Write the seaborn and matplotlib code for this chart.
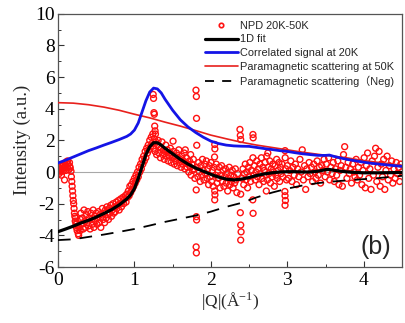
import numpy as np
import matplotlib
matplotlib.use("Agg")
import matplotlib.pyplot as plt
from matplotlib.lines import Line2D
import seaborn as sns

# ---------------- data ----------------
# Smooth curves
fit_q = [0.0, 0.1, 0.2, 0.3, 0.4, 0.5, 0.6, 0.7, 0.8, 0.9, 0.95, 1.0, 1.05, 1.1, 1.15, 1.2, 1.25,
         1.3, 1.35, 1.4, 1.5, 1.6, 1.7, 1.8, 1.9, 2.0, 2.1, 2.2, 2.3, 2.4, 2.5, 2.6, 2.7, 2.8,
         2.9, 3.0, 3.1, 3.2, 3.3, 3.4, 3.5, 3.55, 3.6, 3.7, 3.8, 3.9, 4.0, 4.2, 4.5]
fit_i = [-3.77, -3.6, -3.42, -3.22, -3.05, -2.85, -2.62, -2.38, -2.08, -1.7, -1.45, -1.05, -0.4,
         0.35, 1.1, 1.6, 1.85, 1.85, 1.7, 1.5, 1.15, 0.8, 0.5, 0.25, 0.05, -0.15, -0.32, -0.45,
         -0.5, -0.45, -0.35, -0.22, -0.12, -0.05, 0.0, 0.02, 0.02, 0.0, 0.0, 0.05, 0.15, 0.16,
         0.12, 0.05, 0.0, -0.03, -0.05, -0.05, -0.03]

corr_q = [0.0, 0.1, 0.2, 0.3, 0.4, 0.5, 0.6, 0.7, 0.8, 0.9, 0.95, 1.0, 1.05, 1.1, 1.15, 1.2, 1.25,
          1.3, 1.35, 1.4, 1.5, 1.6, 1.7, 1.8, 1.9, 2.0, 2.1, 2.2, 2.3, 2.4, 2.5, 2.6, 2.7, 2.8,
          2.9, 3.0, 3.1, 3.2, 3.3, 3.4, 3.5, 3.55, 3.6, 3.7, 3.8, 3.9, 4.0, 4.1, 4.2, 4.3, 4.4, 4.5]
corr_i = [0.57, 0.75, 0.95, 1.15, 1.35, 1.52, 1.7, 1.87, 2.05, 2.25, 2.4, 2.65, 3.1, 3.8, 4.5,
          5.05, 5.3, 5.25, 5.0, 4.6, 3.9, 3.3, 2.85, 2.5, 2.2, 1.95, 1.8, 1.7, 1.65, 1.63, 1.62,
          1.55, 1.48, 1.42, 1.35, 1.3, 1.22, 1.15, 1.1, 1.05, 1.05, 1.07, 1.0, 0.88, 0.78, 0.7,
          0.62, 0.55, 0.5, 0.45, 0.4, 0.36]

para_q = [0.0, 0.2, 0.4, 0.6, 0.8, 1.0, 1.2, 1.4, 1.6, 1.8, 2.0, 2.2, 2.4, 2.6, 2.8, 3.0, 3.2,
          3.4, 3.6, 3.8, 4.0, 4.2, 4.4, 4.5]
para_i = [4.38, 4.35, 4.25, 4.1, 3.9, 3.65, 3.42, 3.15, 2.9, 2.62, 2.33, 2.1, 1.88, 1.7, 1.55,
          1.4, 1.25, 1.12, 1.0, 0.88, 0.72, 0.6, 0.48, 0.42]

neg_q = [0.0, 0.2, 0.4, 0.6, 0.8, 1.0, 1.2, 1.4, 1.6, 1.8, 2.0, 2.2, 2.4, 2.6, 2.8, 3.0, 3.2,
         3.4, 3.6, 3.8, 4.0, 4.2, 4.4, 4.5]
neg_i = [-4.3, -4.25, -4.1, -3.95, -3.78, -3.6, -3.38, -3.15, -2.95, -2.75, -2.5, -2.2, -1.95,
         -1.6, -1.3, -1.05, -0.85, -0.7, -0.6, -0.52, -0.45, -0.38, -0.28, -0.24]

# NPD 20K-50K difference points, (|Q|, intensity), in segments
npd_seg_a = [(0.00, 0.05), (0.01, 0.15), (0.015, -0.1), (0.02, 0.0), (0.03, 0.2), (0.04, 0.1),
             (0.045, -0.2), (0.05, 0.35), (0.06, 0.2), (0.065, 0.05), (0.07, 0.45), (0.08, 0.3),
             (0.085, -0.5), (0.09, 0.55), (0.10, 0.4), (0.105, 0.1), (0.11, 0.65), (0.12, 0.3),
             (0.125, 0.7), (0.13, 0.5), (0.14, 0.15), (0.15, 0.6), (0.155, 0.35), (0.16, 0.25),
             (0.17, 0.05), (0.175, -0.3), (0.18, -0.6), (0.185, -0.9), (0.19, -1.2), (0.195, -1.5),
             (0.20, -1.8), (0.205, -2.0), (0.21, -2.3), (0.215, -2.6), (0.22, -2.8), (0.225, -3.1),
             (0.23, -2.9), (0.235, -3.3), (0.24, -3.5), (0.245, -3.2), (0.25, -3.7), (0.26, -3.4),
             (0.265, -3.9), (0.27, -4.0), (0.28, -3.5), (0.29, -3.7), (0.295, -3.0)]
npd_seg_b = [(0.30, -2.6), (0.31, -3.3), (0.32, -2.9), (0.33, -3.6), (0.34, -2.4), (0.35, -3.1),
             (0.36, -3.5), (0.37, -2.7), (0.38, -3.2), (0.39, -2.5), (0.40, -3.4), (0.41, -2.9),
             (0.42, -3.6), (0.43, -2.6), (0.44, -3.0), (0.45, -3.3), (0.46, -2.4), (0.47, -3.5),
             (0.48, -2.8), (0.49, -3.1), (0.50, -2.6), (0.51, -3.3), (0.52, -2.9), (0.53, -2.5),
             (0.54, -3.2), (0.55, -2.7), (0.56, -3.5), (0.57, -2.8), (0.58, -2.3), (0.59, -3.0),
             (0.60, -2.6), (0.61, -3.2), (0.62, -2.4), (0.63, -2.9), (0.64, -2.2), (0.65, -2.7),
             (0.66, -3.0), (0.67, -2.3), (0.68, -2.6), (0.69, -2.1), (0.70, -2.8), (0.71, -2.4),
             (0.72, -2.0), (0.73, -2.6), (0.74, -2.2), (0.75, -2.5), (0.76, -1.9), (0.77, -2.3),
             (0.78, -2.1), (0.79, -1.8), (0.80, -2.4), (0.81, -2.0), (0.82, -1.7), (0.83, -2.2),
             (0.84, -1.9), (0.85, -1.6), (0.86, -2.0), (0.87, -1.7), (0.88, -1.5), (0.89, -1.9),
             (0.90, -1.4), (0.91, -1.6), (0.92, -1.2), (0.93, -1.5), (0.94, -0.9), (0.95, -1.3)]
npd_seg_c = [(0.96, -0.8), (0.97, -1.1), (0.98, -0.6), (0.99, -0.9), (1.00, -0.4), (1.01, -0.7),
             (1.02, -0.2), (1.03, -0.5), (1.04, 0.0), (1.05, -0.3), (1.06, 0.3), (1.07, 0.0),
             (1.08, 0.5), (1.09, 0.2), (1.10, 0.8), (1.11, 0.5), (1.12, 1.0), (1.13, 0.7),
             (1.14, 1.3), (1.15, 0.9), (1.16, 1.5), (1.17, 1.2), (1.18, 1.7), (1.19, 1.4),
             (1.20, 2.0), (1.21, 1.6), (1.22, 2.2), (1.23, 1.8), (1.24, 2.4), (1.25, 1.5),
             (1.245, 4.9), (1.25, 4.65), (1.255, 3.75), (1.26, 3.65), (1.265, 2.9), (1.27, 2.6),
             (1.275, 2.4)]
npd_seg_d = [(1.26, 2.1), (1.27, 1.3), (1.28, 1.9), (1.29, 1.1), (1.30, 1.7), (1.31, 2.0),
             (1.32, 1.2), (1.33, 1.6), (1.34, 0.9), (1.35, 1.5), (1.36, 1.9), (1.37, 1.1),
             (1.38, 1.4), (1.39, 0.8), (1.40, 1.3), (1.41, 1.7), (1.42, 1.0), (1.43, 1.4),
             (1.44, 0.7), (1.45, 1.2), (1.46, 1.0), (1.47, 1.5), (1.48, 0.6), (1.49, 1.1),
             (1.50, 0.9), (1.505, 1.95), (1.51, 1.3), (1.52, 0.5), (1.53, 1.0), (1.54, 0.7),
             (1.55, 1.2), (1.56, 0.4), (1.57, 0.9), (1.58, 1.4), (1.59, 0.6), (1.60, 0.8),
             (1.61, 0.3), (1.62, 1.0), (1.63, 0.5), (1.64, 0.7), (1.65, 1.2), (1.66, 0.2),
             (1.665, 1.4), (1.67, 0.6), (1.68, 0.9), (1.69, 0.3), (1.70, 0.5), (1.71, 0.0),
             (1.72, 0.7), (1.73, 0.3), (1.735, 1.1), (1.74, -0.2), (1.75, 0.5), (1.76, 0.1),
             (1.77, 0.8), (1.78, 0.2), (1.79, -0.4)]
npd_seg_e = [(1.805, 5.17), (1.81, 4.77), (1.812, 3.39), (1.815, 1.69), (1.808, -1.13),
             (1.81, -2.82), (1.813, -3.03), (1.807, -4.73), (1.81, -5.11),
             (1.82, 0.3), (1.83, -0.3), (1.84, 0.6), (1.85, 0.0), (1.86, -0.6), (1.87, 0.4),
             (1.88, -0.2), (1.89, 0.8), (1.90, 0.1), (1.91, -0.5), (1.92, 0.5), (1.93, -0.1),
             (1.94, 0.7), (1.95, -0.4), (1.96, 0.2), (1.97, -0.8), (1.98, 0.4), (1.99, -0.3),
             (2.00, 0.6), (2.01, -0.6), (2.02, 0.1), (2.03, -0.9), (2.04, 0.3),
             (2.05, 1.74), (2.052, 1.46), (2.048, 0.95), (2.05, -1.2), (2.053, -1.44),
             (2.05, -1.76)]
npd_seg_f = [(2.06, -0.2), (2.07, 0.5), (2.08, -0.7), (2.09, 0.0), (2.10, -0.4), (2.11, 0.3),
             (2.12, -1.0), (2.13, -0.2), (2.14, 0.4), (2.15, -0.6), (2.16, 0.1), (2.17, -0.9),
             (2.18, -0.3), (2.19, 0.2), (2.20, -0.7), (2.21, -0.1), (2.22, -1.2), (2.23, -0.4),
             (2.24, 0.3), (2.25, -0.8), (2.26, -0.2), (2.27, -0.6), (2.28, 0.1), (2.29, -1.0),
             (2.30, -0.3), (2.31, -0.7), (2.32, 0.2), (2.33, -0.5), (2.34, -1.3), (2.35, -0.1),
             (2.38, 2.69), (2.385, 2.31), (2.39, 2.05), (2.39, -1.4), (2.385, -2.57),
             (2.39, -3.35), (2.395, -3.78), (2.39, -4.3),
             (2.41, -0.4), (2.42, 0.2), (2.43, -0.8), (2.44, -0.1), (2.45, 0.5), (2.46, -0.5),
             (2.47, 0.0), (2.48, -1.0), (2.49, 0.3), (2.50, -0.3), (2.51, 0.6), (2.52, -0.6),
             (2.53, 0.1),
             (2.55, 2.37), (2.553, 2.16), (2.55, 0.9), (2.548, -1.76), (2.552, -2.61)]
npd_seg_g = [(2.56, -0.2), (2.57, 0.4), (2.58, -0.5), (2.59, 0.0), (2.60, 0.7), (2.61, -0.3),
             (2.62, 0.2), (2.63, -0.8), (2.64, 0.5), (2.65, -0.1), (2.66, 0.9), (2.67, -0.4),
             (2.68, 0.3), (2.69, -0.6), (2.70, 0.1), (2.71, 0.6), (2.72, -0.2), (2.725, -1.2),
             (2.73, 1.0), (2.74, -0.5), (2.745, 1.2), (2.75, 0.3), (2.76, -0.1), (2.77, 0.7),
             (2.78, -0.7), (2.79, 0.2), (2.80, -0.3), (2.81, 0.5), (2.82, 0.0), (2.83, -0.9),
             (2.84, 0.4), (2.85, -0.2), (2.86, 0.8), (2.87, -0.4), (2.88, 0.1), (2.89, 0.6),
             (2.90, -0.6), (2.91, 0.3), (2.92, -0.1), (2.93, 0.5), (2.94, -0.3),
             (2.97, 1.35), (2.972, 0.9), (2.968, -1.23), (2.97, -1.5), (2.975, -1.8),
             (2.97, -2.1), (2.98, 0.2), (2.99, -0.5)]
npd_seg_h = [(3.00, 0.4), (3.015, -0.4), (3.03, 0.1), (3.045, 0.7), (3.06, -0.6), (3.075, 0.3),
             (3.09, -0.2), (3.105, 0.5), (3.12, -0.8), (3.135, 0.2), (3.15, -0.3), (3.165, 0.8),
             (3.18, 0.0), (3.195, 1.4), (3.21, -0.5), (3.225, 0.4), (3.24, -1.1), (3.255, 0.2),
             (3.27, -0.3), (3.285, 0.6), (3.30, -0.1), (3.315, 0.3), (3.33, -0.6), (3.345, 0.5),
             (3.36, 0.0), (3.375, -0.4), (3.39, 0.7), (3.405, -0.2), (3.42, 0.3), (3.435, -0.7),
             (3.45, 0.4), (3.465, 0.1), (3.48, 0.8), (3.495, -0.3), (3.51, 0.5), (3.525, 0.0),
             (3.54, 0.9), (3.555, -0.5), (3.57, 0.3), (3.585, -0.1), (3.60, 0.6), (3.615, -0.6),
             (3.63, 0.2), (3.645, -0.2), (3.66, 0.7), (3.675, -0.8), (3.69, 0.1), (3.705, 0.4),
             (3.72, -0.9), (3.735, 1.1), (3.75, 1.6), (3.765, 0.3), (3.78, -0.4), (3.795, 0.6)]
npd_seg_i = [(3.81, -0.1), (3.825, 0.2), (3.84, -0.7), (3.855, 0.5), (3.87, 0.0), (3.885, -0.3),
             (3.90, 0.8), (3.915, -0.5), (3.93, 0.3), (3.945, -0.2), (3.96, 0.6), (3.975, -0.8),
             (3.99, 0.1), (4.005, 0.9), (4.02, -1.0), (4.035, 0.4), (4.05, 1.2), (4.065, -0.4),
             (4.08, 0.2), (4.095, -1.1), (4.11, 0.7), (4.125, -0.2), (4.14, 1.0), (4.155, 1.5),
             (4.17, -0.6), (4.185, 0.3), (4.20, 1.3), (4.215, -0.9), (4.23, 0.5), (4.245, -0.3),
             (4.26, 0.8), (4.275, -1.1), (4.29, 0.1), (4.305, 1.0), (4.32, -0.5), (4.335, 0.4),
             (4.35, -0.2), (4.365, 0.7), (4.38, -0.7), (4.395, 0.2), (4.41, -0.4), (4.425, 0.6),
             (4.44, -0.1), (4.455, 0.3), (4.47, -0.6), (4.485, 0.5), (4.50, 0.0)]

x_ticks = [0, 1, 2, 3, 4]
y_ticks = [-6, -4, -2, 0, 2, 4, 6, 8, 10]
legend_labels = ["NPD 20K-50K", "1D fit", "Correlated signal at 20K",
                 "Paramagnetic scattering at 50K", "Paramagnetic scattering\uff08Neg)"]

# ---------------- plotting ----------------
sns.set_style("ticks")
plt.rcParams["font.family"] = ["Liberation Serif", "DejaVu Serif"]
plt.rcParams["mathtext.default"] = "regular"
plt.rcParams["axes.unicode_minus"] = False

fig = plt.figure(figsize=(4.06, 3.23), dpi=100)
ax = fig.add_axes([58 / 406, 1 - 267 / 323, (402 - 58) / 406, (267 - 13.7) / 323])

npd_all = (npd_seg_a + npd_seg_b + npd_seg_c + npd_seg_d + npd_seg_e + npd_seg_f
           + npd_seg_g + npd_seg_h + npd_seg_i)
npd_q = [p[0] for p in npd_all]
npd_i = [p[1] for p in npd_all]

ax.axhline(0, color="#a8a8a8", lw=0.8, zorder=1)
ax.scatter(npd_q, npd_i, s=18, facecolors="none", edgecolors="#ff1010", linewidths=1.0, zorder=2)

sns.lineplot(x=para_q, y=para_i, ax=ax, color="#e8201c", lw=1.2, sort=False, zorder=3)
sns.lineplot(x=corr_q, y=corr_i, ax=ax, color="#1414e6", lw=2.0, sort=False, zorder=4)
sns.lineplot(x=neg_q, y=neg_i, ax=ax, color="black", lw=1.3, sort=False, zorder=4,
             dashes=False, linestyle=(0, (7, 5)))
sns.lineplot(x=fit_q, y=fit_i, ax=ax, color="black", lw=2.3, sort=False, zorder=5)

ax.set_xlim(0, 4.5)
ax.set_ylim(-6, 10)
ax.set_xticks(x_ticks)
ax.set_yticks(y_ticks)
ax.set_xticks([0.5, 1.5, 2.5, 3.5], minor=True)
ax.set_yticks([-5, -3, -1, 1, 3, 5, 7, 9], minor=True)
ax.tick_params(axis="both", which="major", direction="in", length=4, width=0.8,
               labelsize=14, colors="#333333", labelcolor="black")
ax.tick_params(axis="x", which="major", pad=3.5)
ax.tick_params(axis="y", which="major", pad=2.5)
ax.tick_params(axis="both", which="minor", direction="in", length=2.5, width=0.7,
               colors="#333333")
for sp in ax.spines.values():
    sp.set_color("#555555")
    sp.set_linewidth(0.9)

ax.set_ylabel("Intensity (a.u.)", fontsize=13.5, labelpad=3)
ax.set_xlabel("|Q|(\u00c5$^{-1}$)", fontsize=12.5, labelpad=1)

ax.text(4.16, -4.73, "(b)", fontsize=18, family=["Liberation Sans", "DejaVu Sans"],
        ha="center", va="center")

handles = [
    Line2D([], [], ls="none", marker="o", ms=3.2, mfc="none", mec="#ff1010", mew=1.2),
    Line2D([], [], color="black", lw=2.3),
    Line2D([], [], color="#1414e6", lw=2.0),
    Line2D([], [], color="#e8201c", lw=1.2),
    Line2D([], [], color="black", lw=1.3, linestyle=(0, (5, 4.5))),
]
ax.legend(handles, legend_labels, loc="upper left", bbox_to_anchor=(147 / 344, 0.972),
          frameon=False, borderpad=0, borderaxespad=0, handlelength=3.0, handletextpad=0.15,
          labelspacing=0.33,
          prop={"family": ["Liberation Sans", "Noto Sans CJK SC", "DejaVu Sans"], "size": 7.9})

fig.savefig("out.png", dpi=100)
